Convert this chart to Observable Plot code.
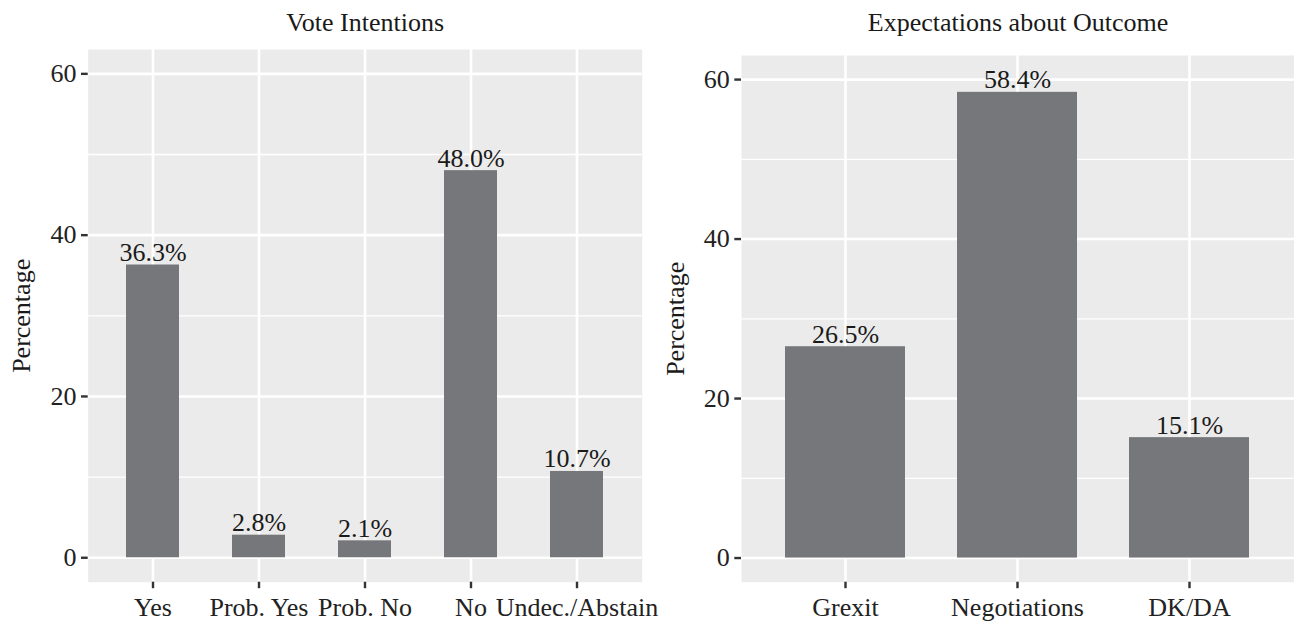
<!DOCTYPE html>
<html><head><meta charset="utf-8">
<script src="https://cdn.jsdelivr.net/npm/d3@7"></script>
<script src="https://cdn.jsdelivr.net/npm/@observablehq/plot@0.6"></script>
<style>
body{margin:0;background:#fff;}
#wrap{position:relative;width:1294px;height:621px;overflow:hidden;}
#wrap svg{position:absolute;top:0;}
</style>
</head><body><div id="wrap"></div>
<script>
const voteCategories = ["Yes", "Prob. Yes", "Prob. No", "No", "Undec./Abstain"];
const voteValues = [36.3, 2.8, 2.1, 48.0, 10.7];
const expectCategories = ["Grexit", "Negotiations", "DK/DA"];
const expectValues = [26.5, 58.4, 15.1];
const yMajorTicks = [0, 20, 40, 60];
const yMinorTicks = [10, 30, 50];
const panelTitles = ["Vote Intentions", "Expectations about Outcome"];
const yAxisTitle = "Percentage";

const FONT = "'Liberation Serif', 'Times New Roman', Times, serif";
const BAR = "#76777b";
const BG = "#ebebeb";
const fmt = v => d3.format(".1f")(v) + "%";

function panel({cats, vals, title, width, marginLeft, marginRight, marginTop, paddingInner, paddingOuter, left}) {
  const data = cats.map((c, i) => ({cat: c, value: vals[i]}));
  const marginBottom = 39.3;
  const svg = Plot.plot({
    width, height: 621,
    marginLeft, marginRight, marginTop, marginBottom,
    style: {fontFamily: FONT, fontSize: "26px", color: "#222", background: "transparent", overflow: "visible", maxWidth: "none"},
    x: {type: "band", domain: cats, paddingInner, paddingOuter, label: null},
    y: {domain: [-3.03, 63.02], label: null},
    marks: [
      Plot.frame({fill: BG, stroke: "none"}),
      Plot.ruleY(yMinorTicks, {stroke: "white", strokeWidth: 1.3}),
      Plot.ruleY(yMajorTicks, {stroke: "white", strokeWidth: 2.6}),
      Plot.gridX({stroke: "white", strokeOpacity: 1, strokeWidth: 2.6}),
      Plot.barY(data, {x: "cat", y: "value", fill: BAR}),
      Plot.text(data, {x: "cat", y: "value", text: d => fmt(d.value), dy: -4, lineAnchor: "bottom", fill: "#1a1a1a", fontSize: 26}),
      Plot.axisY({ticks: yMajorTicks, tickSize: 6.7, tickPadding: 5, stroke: "#333", strokeWidth: 2.4, fill: "#222", fontSize: 26, label: null}),
      Plot.axisX({tickSize: 6.5, tickPadding: 8.5, stroke: "#333", strokeWidth: 2.4, fill: "#222", fontSize: 26, label: null}),
      Plot.text([title], {frameAnchor: "top", dy: -(marginTop - 30), lineAnchor: "bottom", fill: "#1a1a1a", fontSize: 26}),
      Plot.text([yAxisTitle], {frameAnchor: "left", rotate: -90, dx: -57.7, lineAnchor: "bottom", textAnchor: "middle", fill: "#1a1a1a", fontSize: 26})
    ]
  });
  svg.style.left = left + "px";
  return svg;
}

const wrap = document.getElementById("wrap");
wrap.appendChild(panel({
  cats: voteCategories, vals: voteValues, title: panelTitles[0],
  width: 647, marginLeft: 87.7, marginRight: 5.3, marginTop: 49,
  paddingInner: 0.5, paddingOuter: 0.35, left: 0
}));
wrap.appendChild(panel({
  cats: expectCategories, vals: expectValues, title: panelTitles[1],
  width: 647, marginLeft: 94, marginRight: 0, marginTop: 55,
  paddingInner: 0.3, paddingOuter: 0.25, left: 647
}));
</script>
</body></html>
